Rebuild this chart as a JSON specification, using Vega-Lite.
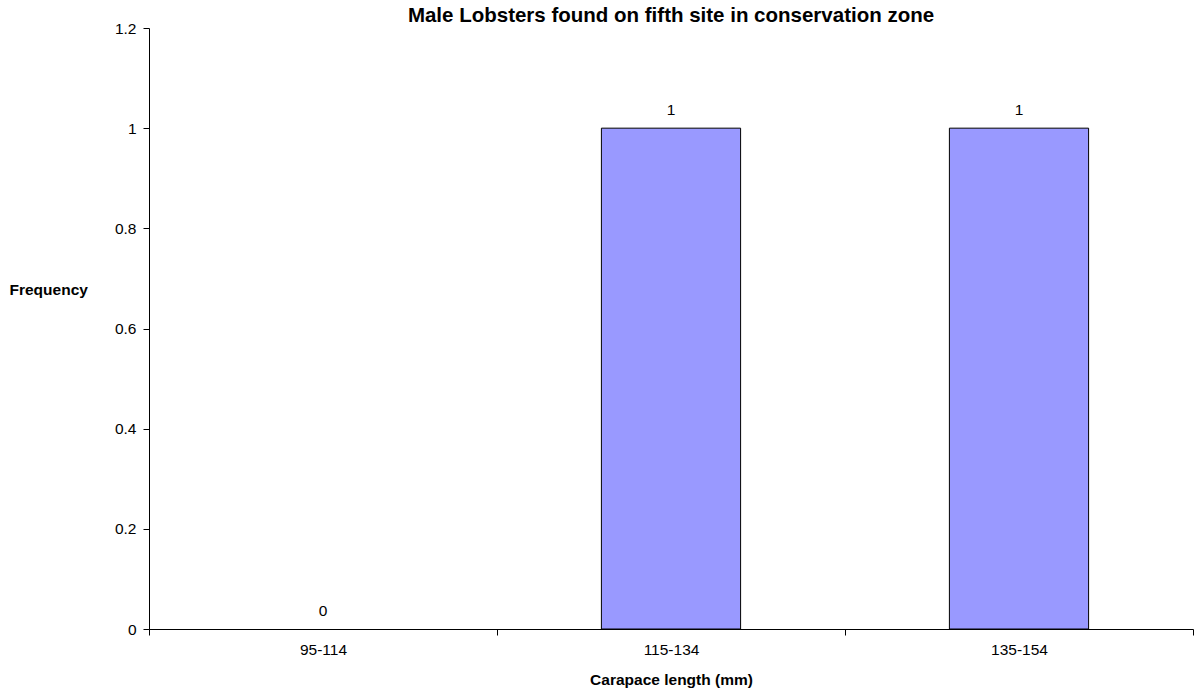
{
  "$schema": "https://vega.github.io/schema/vega-lite/v6.json",
  "autosize": {"type": "none"},
  "width": 1044,
  "height": 601,
  "padding": {"left": 149, "top": 28, "right": 5, "bottom": 65},
  "background": "white",
  "config": {
    "font": "Liberation Sans",
    "view": {"stroke": null}
  },
  "title": {
    "text": "Male Lobsters found on fifth site in conservation zone",
    "fontSize": 20.5,
    "fontWeight": "bold",
    "font": "Liberation Sans",
    "anchor": "middle",
    "baseline": "alphabetic",
    "offset": -2,
    "dy": 19,
    "color": "black"
  },
  "data": {
    "values": [
      {"range": "95-114", "frequency": 0},
      {"range": "115-134", "frequency": 1},
      {"range": "135-154", "frequency": 1}
    ]
  },
  "encoding": {
    "x": {
      "field": "range",
      "type": "nominal",
      "sort": ["95-114", "115-134", "135-154"],
      "scale": {"domain": ["95-114", "115-134", "135-154"], "paddingInner": 0, "paddingOuter": 0},
      "axis": {
        "title": "Carapace length (mm)",
        "titleFontSize": 15.5,
        "titleFontWeight": "bold",
        "titleColor": "black",
        "titlePadding": 15,
        "labelAngle": 0,
        "labelFontSize": 15.5,
        "labelColor": "black",
        "labelPadding": 7,
        "tickBand": "extent",
        "tickSize": 6,
        "tickColor": "black",
        "domainColor": "black",
        "grid": false
      }
    },
    "y": {
      "field": "frequency",
      "type": "quantitative",
      "scale": {"domain": [0, 1.2], "nice": false},
      "axis": {
        "values": [0, 0.2, 0.4, 0.6, 0.8, 1, 1.2],
        "format": ".1~f",
        "title": "Frequency",
        "titleAngle": 0,
        "titleAlign": "left",
        "titleBaseline": "alphabetic",
        "titleX": -140,
        "titleY": 266,
        "titleFontSize": 15.5,
        "titleFontWeight": "bold",
        "titleColor": "black",
        "labelFontSize": 15.5,
        "labelColor": "black",
        "labelPadding": 7,
        "tickSize": 6,
        "tickColor": "black",
        "domainColor": "black",
        "grid": false
      }
    }
  },
  "layer": [
    {
      "transform": [{"filter": "datum.frequency > 0"}],
      "mark": {"type": "bar", "width": {"band": 0.4}, "color": "#9999FF", "stroke": "black", "strokeWidth": 1}
    },
    {
      "mark": {"type": "text", "dy": -13, "fontSize": 15.5, "color": "black", "baseline": "alphabetic"},
      "encoding": {"text": {"field": "frequency", "type": "quantitative"}}
    }
  ]
}
